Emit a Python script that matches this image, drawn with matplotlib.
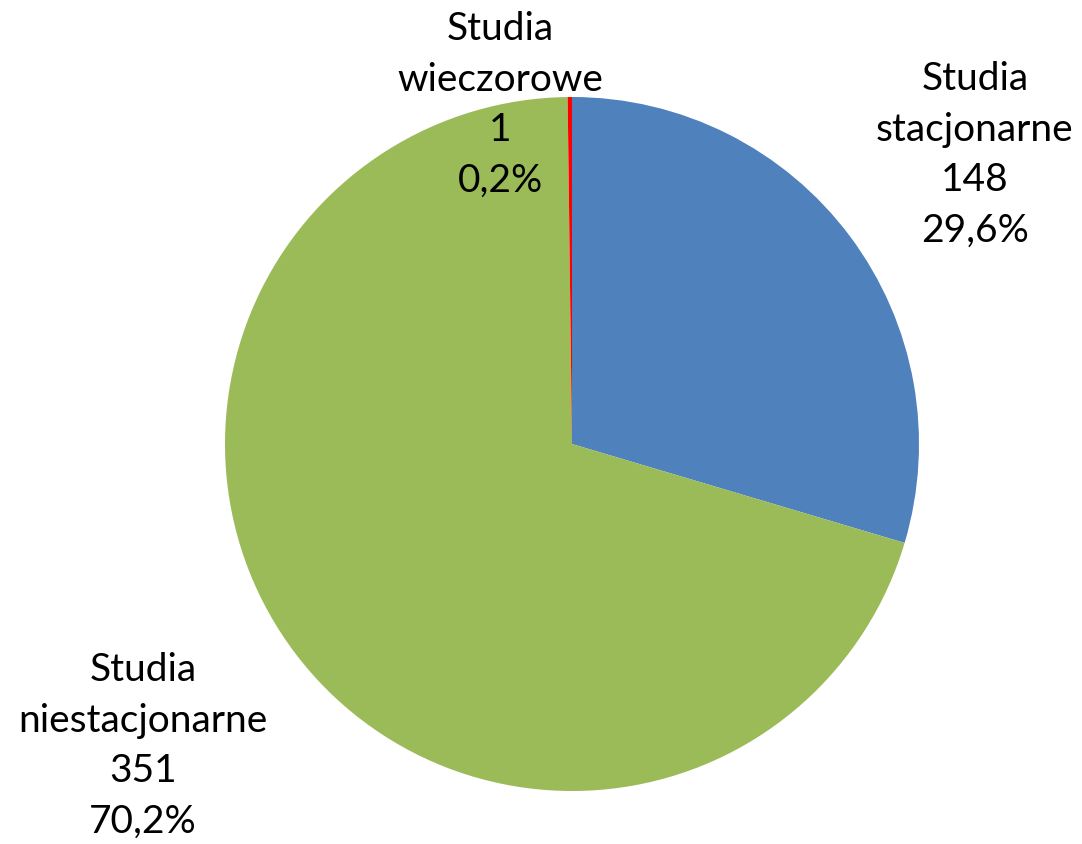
import matplotlib
matplotlib.use("Agg")
import matplotlib.pyplot as plt

categories = ["Studia\nstacjonarne", "Studia\nniestacjonarne", "Studia\nwieczorowe"]
values = [148, 351, 1]
percents = ["29,6%", "70,2%", "0,2%"]
colors = ["#4F81BD", "#9BBB59", "#FF0000"]
label_pos = [(1.161, 0.836), (-1.236, -0.867), (-0.207, 0.980)]

plt.rcParams['font.family'] = ['Lato', 'DejaVu Sans']

fig = plt.figure(figsize=(10.82, 8.45), dpi=100)
ax = fig.add_axes([0, 0, 1, 1])
ax.pie(values, colors=colors, startangle=90, counterclock=False,
       radius=1.0, center=(0, 0), wedgeprops=dict(linewidth=0))
for cat, v, p, (x, y) in zip(categories, values, percents, label_pos):
    ax.text(x, y, f"{cat}\n{v}\n{p}", ha="center", va="center",
            fontsize=28, linespacing=1.5, color="black")
ax.set_xlim(-572/347, (1082-572)/347)
ax.set_ylim(-(845-445)/347, 445/347)
ax.set_aspect("equal")
ax.axis("off")
fig.savefig("out.png", dpi=100)
